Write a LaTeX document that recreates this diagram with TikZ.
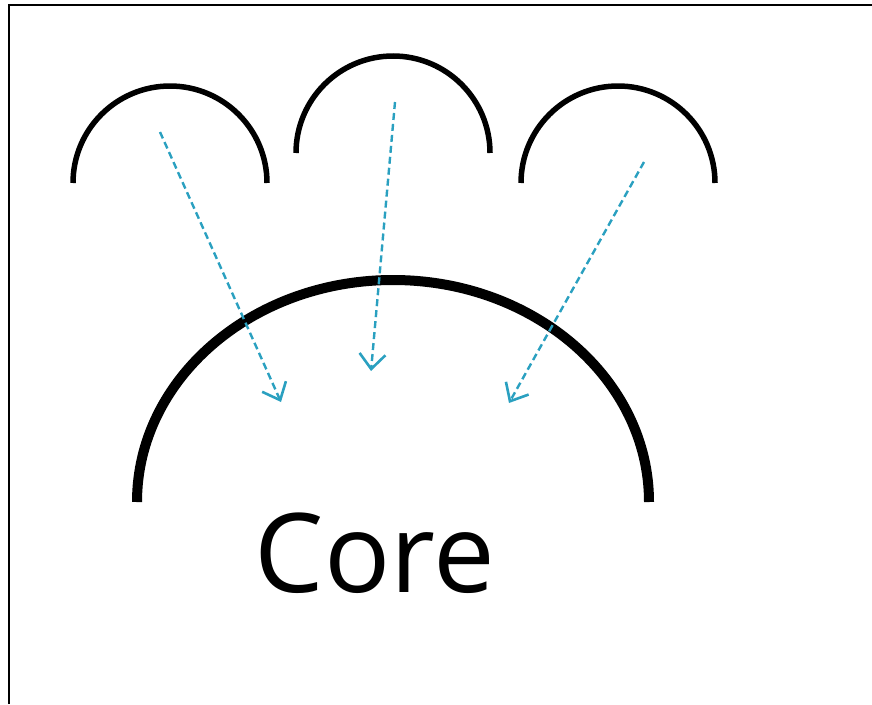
\documentclass[tikz,border=0pt]{standalone}
\usepackage{fontspec}
\setmainfont{Open Sans}
\usepackage{tikz}
\usetikzlibrary{arrows.meta}
\definecolor{flowblue}{RGB}{42,160,192}

\begin{document}
\begin{tikzpicture}[x=1pt,y=-1pt,
	  shell/.style={black, line width=5.5pt},
	  flow/.style={flowblue, line width=2.4pt, dash pattern=on 7pt off 4pt,
	    -{Straight Barb[length=15pt,width=26pt,line width=2.6pt]}}]
	  \useasboundingbox (0,0) rectangle (872,704);
	  % frame (cut off on the right and bottom)
	  \draw[black, line width=2.5pt] (9,704)--(9,5)--(872,5);

	  % outer shells
	  \draw[shell] (73,183) arc[start angle=180, end angle=360, radius=97];
	  \draw[shell] (296,153) arc[start angle=180, end angle=360, radius=97];
	  \draw[shell] (521,183) arc[start angle=180, end angle=360, radius=97];
	  % core shell
	  \draw[black, line width=10pt] (137,502) arc[start angle=180, end angle=360, x radius=256, y radius=222];

	  \node[font=\fontsize{110}{114}\selectfont] (core) at (375,553) {Core};

	  \coordinate (s1) at (160,132); \coordinate (e1) at (281,402);
	  \coordinate (s2) at (395,102); \coordinate (e2) at (371,371);
	  \coordinate (s3) at (644,162); \coordinate (e3) at (509,403);
	  \draw[flow] (s1)--(e1);
	  \draw[flow] (s2)--(e2);
	  \draw[flow] (s3)--(e3);
\end{tikzpicture}
\end{document}
